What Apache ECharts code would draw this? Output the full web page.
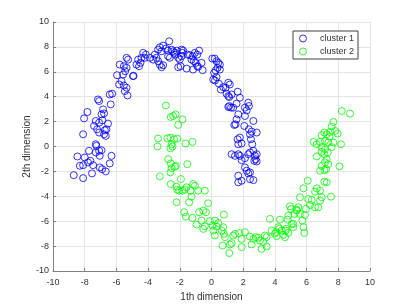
<!DOCTYPE html>
<html>
<head>
<meta charset="utf-8">
<script src="https://cdn.jsdelivr.net/npm/echarts@6/dist/echarts.min.js"></script>
<style>html,body{margin:0;padding:0;background:#fff}#c{width:409px;height:307px}</style>
</head>
<body>
<div id="c"></div>
<script>
const seriesNames = ['cluster 1', 'cluster 2'];
const xTicks = [-10, -8, -6, -4, -2, 0, 2, 4, 6, 8, 10];
const yTicks = [-10, -8, -6, -4, -2, 0, 2, 4, 6, 8, 10];
const xAxisName = '1th dimension';
const yAxisName = '2th dimension';

const cluster1 = [
[-5.79,6.58],[-5.53,6.45],[-5.36,6.32],[-5.45,6.05],[-5.58,5.78],[-5.96,5.73],[-5.68,5.25],[-5.83,4.98],[-5.53,4.90],[-5.36,4.72],[-5.47,4.45],[-5.30,4.10],[-4.95,5.65],[-4.92,5.68],[-6.42,4.18],[-6.27,4.24],[-7.16,3.78],[-7.09,3.65],[-6.36,3.38],[-7.83,2.77],[-8.04,2.26],[-6.84,2.98],[-6.78,2.66],[-6.94,2.58],[-7.30,2.05],[-7.41,1.65],[-7.09,1.92],[-6.88,2.10],[-6.53,1.84],[-7.22,1.38],[-7.09,1.12],[-6.73,1.30],[-6.63,1.38],[-6.78,0.98],[-6.67,0.85],[-8.10,0.98],[-7.30,0.18],[-7.26,0.05],[-7.73,-0.35],[-7.30,-0.48],[-7.09,-0.35],[-6.94,-0.30],[-7.05,-0.75],[-6.31,-0.75],[-8.46,-0.80],[-8.00,-0.88],[-7.64,-1.15],[-7.79,-1.28],[-8.31,-1.55],[-8.10,-1.50],[-7.47,-1.50],[-7.05,-1.68],[-6.90,-1.82],[-6.67,-2.00],[-6.42,-1.36],[-7.54,-2.16],[-8.69,-2.30],[-8.10,-2.54],
[-2.67,8.45],[-3.26,7.97],[-3.05,8.10],[-3.37,7.78],[-3.15,7.65],[-2.88,7.86],[-2.74,7.70],[-2.52,7.78],[-2.42,7.65],[-2.31,7.52],[-2.20,7.70],[-1.89,7.78],[-1.83,7.52],[-1.79,7.70],[-1.51,7.38],[-1.36,7.33],[-1.19,7.25],[-1.05,7.52],[-0.90,7.38],[-0.78,7.70],[-1.26,6.98],[-1.11,6.85],[-0.99,6.72],[-0.90,6.45],[-4.31,7.52],[-4.14,7.38],[-4.42,7.12],[-4.21,7.12],[-4.63,6.98],[-4.73,6.58],[-4.57,6.45],[-4.48,6.72],[-3.89,7.12],[-3.68,6.98],[-3.58,7.38],[-3.47,7.12],[-3.37,6.85],[-3.26,6.58],[-3.15,6.37],[-3.05,6.53],[-2.74,7.25],[-2.63,7.12],[-2.31,7.38],[-2.10,7.12],[-2.00,6.98],[-1.89,7.25],[-2.10,6.37],[-1.95,6.45],[-1.57,6.26],[-1.16,6.18],[-0.56,6.13],[-0.84,6.40],[-0.63,6.72],[-5.36,7.12],[-5.26,6.98],
[0.05,7.06],[0.21,7.06],[0.32,6.85],[0.43,6.72],[0.53,6.58],[0.38,6.32],[0.26,6.10],[0.53,6.18],[0.17,5.92],[0.11,5.38],[0.22,5.30],[0.32,5.57],[0.47,5.04],[1.06,5.12],[1.16,4.98],[0.89,4.72],[0.74,4.77],[0.59,4.58],[0.95,4.23],[1.06,4.05],[1.12,3.97],[1.27,4.18],[1.65,4.40],[1.79,3.92],[1.58,3.44],[1.12,3.25],[1.23,3.12],[1.06,3.17],[1.37,3.12],[2.32,3.52],[2.36,3.25],[2.11,3.12],[2.22,2.90],[2.11,2.45],[1.69,2.58],[1.58,2.18],[1.44,1.73],[1.52,1.78],[2.07,1.65],[2.36,1.38],[2.53,1.20],[2.64,2.05],[2.85,1.12],[2.43,0.98],[1.79,0.72],[1.65,0.58],[1.69,0.18],[1.90,0.24],[2.49,0.58],[2.57,0.18],[1.27,-0.62],[1.48,-0.75],[1.69,-0.62],[2.32,-0.62],[2.43,-0.48],[2.64,-0.35],[2.74,-0.75],[2.85,-0.62],[2.78,-1.02],[2.70,-1.15],[2.85,-1.20],[1.90,-1.10],[2.11,-0.94],[1.79,-0.75],[2.11,-1.68],[2.22,-1.95],[2.32,-2.16],[2.43,-2.08],[1.69,-2.35],[1.90,-2.75],[2.43,-2.62],[2.64,-2.70],[1.69,-2.88]
];

const cluster2 = [
[-2.88,3.30],[-2.57,2.37],[-2.42,2.45],[-2.27,2.58],[-1.83,2.18],[-2.10,1.73],[-3.37,0.64],[-2.78,0.66],[-2.59,0.72],[-2.36,0.58],[-2.16,0.64],[-3.41,0.00],[-2.52,0.18],[-2.46,0.00],[-2.59,-0.14],[-1.64,0.24],[-1.20,0.37],[-2.73,-1.02],[-2.57,-1.36],[-2.31,-1.63],[-2.52,-1.74],[-2.59,-2.08],[-2.25,-1.55],[-1.53,-1.42],[-3.26,-2.40],[-2.57,-3.02],[-2.21,-3.23],[-1.93,-2.62],[-2.16,-3.47],[-2.04,-3.55],[-1.83,-3.55],[-1.68,-3.47],[-1.58,-3.28],[-1.32,-3.55],[-1.15,-3.02],[-1.05,-3.15],[-0.84,-3.55],[-1.26,-4.03],[-1.41,-4.48],[-2.21,-4.48],[-1.72,-5.28],[-1.62,-5.63],[-1.20,-5.74],[-0.78,-5.28],[-0.94,-6.27],
[-0.42,-3.55],[-0.21,-4.56],[-0.52,-5.15],[-0.35,-5.28],[-0.63,-5.95],[-0.52,-6.62],[-0.42,-6.40],[-0.10,-6.00],[0.21,-5.95],[0.07,-6.35],[0.32,-6.43],[0.11,-6.75],[0.43,-6.16],[0.78,-5.47],[0.74,-6.48],[0.64,-6.75],[0.21,-7.15],[0.78,-7.02],[0.85,-7.28],[0.70,-7.95],[1.16,-7.87],[1.12,-8.56],[1.27,-7.76],[1.37,-7.15],[1.48,-7.02],[1.75,-6.96],[1.90,-7.42],[1.90,-8.08],[2.11,-6.88],[2.42,-7.23],[2.53,-7.87],[2.64,-7.42],[2.80,-7.28],[2.95,-7.34],[3.06,-7.55],[3.27,-7.68],[3.16,-8.22],[3.48,-8.03],[3.37,-7.15],[3.48,-7.28],[3.69,-5.82],[3.79,-6.75],
[8.22,2.85],[8.74,2.64],[7.69,1.97],[7.58,1.60],[7.80,1.25],[7.48,1.17],[7.96,1.04],[7.12,1.12],[6.95,0.90],[7.27,0.98],[7.44,0.80],[6.43,0.37],[6.85,0.37],[6.64,0.18],[7.16,0.45],[7.37,0.32],[7.69,0.32],[8.17,0.18],[7.58,-0.05],[6.95,-0.05],[7.16,-0.22],[6.95,-0.43],[7.33,-0.48],[7.12,-0.62],[6.64,-0.80],[7.27,-1.02],[7.16,-1.28],[7.37,-1.42],[6.95,-1.55],[6.85,-1.95],[7.12,-1.90],[7.23,-1.82],[8.07,-1.60],[6.07,-2.75],[7.12,-2.83],[7.27,-2.88],[6.64,-3.36],[6.53,-3.63],[6.85,-3.55],[6.95,-4.08],[7.54,-4.03],[5.80,-3.36],[5.58,-4.08],[6.11,-4.22],[6.32,-4.30],[6.22,-4.70],[6.53,-4.88],[6.74,-4.88],[6.85,-4.35],[4.95,-4.80],[5.02,-5.02],[5.37,-5.07],[5.48,-4.88],[5.23,-5.42],[5.58,-5.42],[5.90,-5.50],[5.73,-5.95],[4.85,-5.55],[4.80,-5.87],[5.16,-6.22],[4.32,-5.87],[4.22,-6.48],[4.43,-6.75],[4.68,-6.75],[4.53,-7.10],[4.64,-7.28],[4.85,-6.94],[5.16,-6.48],[5.80,-6.48],[5.86,-6.94],[4.07,-6.88],[4.11,-7.20],[4.00,-7.00],[4.28,-6.62],[4.70,-6.62],[5.06,-6.22],[5.38,-5.15],[5.96,-5.02]
];

const colors = ['#0000ff', '#00ff00'];
const FONT = '"Liberation Sans", Arial, Helvetica, sans-serif';
const axisGrey = '#808080';
const textGrey = '#333333';

const chart = echarts.init(document.getElementById('c'), null, {renderer: 'canvas'});
const datasets = [cluster1, cluster2];
chart.setOption({
  animation: false,
  backgroundColor: '#ffffff',
  textStyle: {fontFamily: FONT},
  grid: {left: 53, right: 39, top: 22, bottom: 35, containLabel: false},
  xAxis: {
    type: 'value', min: xTicks[0], max: xTicks[xTicks.length - 1], interval: 2,
    name: xAxisName, nameLocation: 'middle', nameGap: 21, nameMoveOverlap: false,
    nameTextStyle: {fontSize: 10, color: textGrey, fontFamily: FONT},
    axisLine: {show: true, onZero: false, lineStyle: {color: axisGrey, width: 1}},
    axisTick: {show: true, inside: true, length: 3, lineStyle: {color: axisGrey}},
    axisLabel: {fontSize: 9, color: textGrey, margin: 7, fontFamily: FONT},
    splitLine: {show: true, lineStyle: {color: '#e4e4e4', width: 1}}
  },
  yAxis: {
    type: 'value', min: yTicks[0], max: yTicks[yTicks.length - 1], interval: 2,
    name: yAxisName, nameLocation: 'middle', nameGap: 21, nameRotate: 90, nameMoveOverlap: false,
    nameTextStyle: {fontSize: 10, color: textGrey, fontFamily: FONT},
    axisLine: {show: true, onZero: false, lineStyle: {color: axisGrey, width: 1}},
    axisTick: {show: true, inside: true, length: 3, lineStyle: {color: axisGrey}},
    axisLabel: {fontSize: 9, color: textGrey, margin: 4, fontFamily: FONT},
    splitLine: {show: true, lineStyle: {color: '#e4e4e4', width: 1}}
  },
  legend: {
    orient: 'vertical', left: 293, top: 31,
    padding: [3, 4, 3, 6], itemWidth: 24, itemHeight: 7, itemGap: 4,
    borderColor: '#404040', borderWidth: 1, backgroundColor: '#ffffff',
    itemStyle: {borderWidth: 1},
    textStyle: {fontSize: 9, color: textGrey, fontFamily: FONT},
    data: seriesNames
  },
  series: seriesNames.map((n, i) => ({
    name: n, type: 'scatter', symbol: 'circle', symbolSize: 7,
    data: datasets[i],
    itemStyle: {color: 'rgba(255,255,255,0)', borderColor: colors[i], borderWidth: 1},
    emphasis: {disabled: true}
  }))
});
</script>
</body>
</html>
